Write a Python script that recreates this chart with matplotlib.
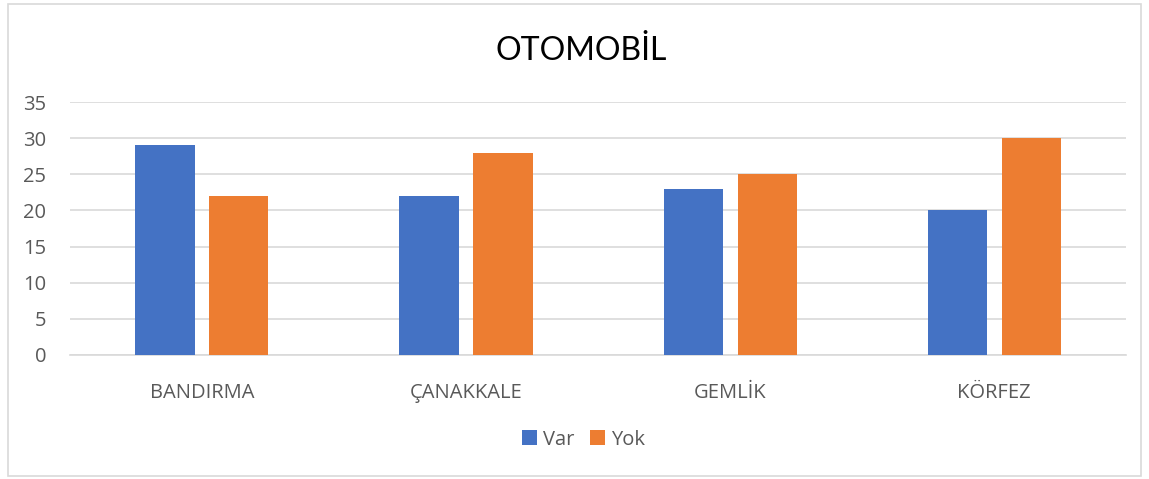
import matplotlib

matplotlib.use("Agg")
import matplotlib.pyplot as plt
import numpy as np
from matplotlib.patches import Rectangle

# data
categories = ["BANDIRMA", "ÇANAKKALE", "GEMLİK", "KÖRFEZ"]
var_values = [29, 22, 23, 20]
yok_values = [22, 28, 25, 30]
yticks = [0, 5, 10, 15, 20, 25, 30, 35]

BLUE = "#4472C4"
ORANGE = "#ED7D31"
GRID = "#D9D9D9"
TEXT = "#595959"

plt.rcParams["font.family"] = ["Open Sans", "DejaVu Sans"]

fig = plt.figure(figsize=(11.49, 4.79), dpi=100)
ax = fig.add_axes([0.0608, 0.259, 0.9195, 0.528])

x = np.arange(len(categories))
width = 0.224
offset = 0.14
ax.bar(x - offset, var_values, width, color=BLUE, label="Var", zorder=3)
ax.bar(x + offset, yok_values, width, color=ORANGE, label="Yok", zorder=3)

ax.set_xlim(-0.5, len(categories) - 0.5)
ax.set_ylim(0, 35)
ax.set_yticks(yticks)
ax.set_xticks(x)
ax.set_xticklabels(categories)
ax.tick_params(axis="y", length=0, pad=17, labelsize=14.5, labelcolor=TEXT)
ax.tick_params(axis="x", length=0, pad=20, labelsize=14.5, labelcolor=TEXT)
ax.grid(axis="y", color=GRID, linewidth=1.2, zorder=0)
for side in ("top", "right", "left"):
    ax.spines[side].set_visible(False)
ax.spines["bottom"].set_color(GRID)
ax.spines["bottom"].set_linewidth(1.2)

fig.text(0.5057, 0.893, "OTOMOBİL", ha="center", va="center", fontsize=23,
         color="black", family=["Lato", "DejaVu Sans"])

fig.legend(
    loc="center",
    bbox_to_anchor=(0.508, 0.082),
    ncol=2,
    frameon=False,
    fontsize=14.5,
    handlelength=0.75,
    handleheight=0.75,
    handletextpad=0.3,
    columnspacing=0.75,
    labelcolor=TEXT,
)

# outer chart border
fig.patches.append(
    Rectangle((0.007, 0.006), 0.986, 0.986, transform=fig.transFigure,
              fill=False, edgecolor=GRID, linewidth=1.2)
)

fig.savefig("out.png", dpi=100)
